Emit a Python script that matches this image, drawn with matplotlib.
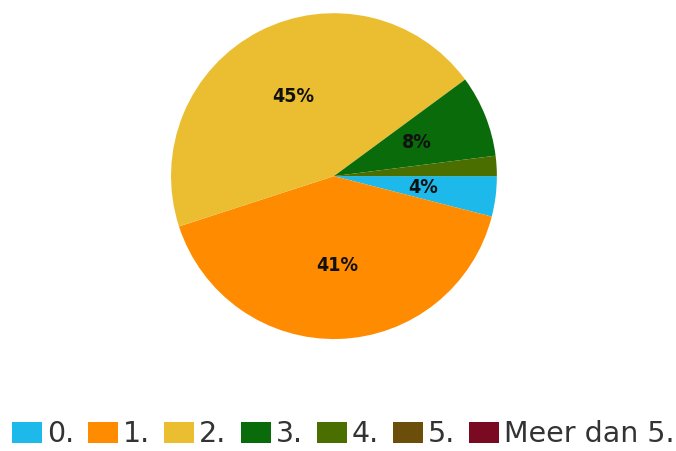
import matplotlib
matplotlib.use("Agg")
import matplotlib.pyplot as plt
from matplotlib.patches import Patch

categories = ["0.", "1.", "2.", "3.", "4.", "5.", "Meer dan 5."]
values = [4.0, 41.0, 44.9, 8.1, 2.0, 0.0, 0.0]
colors = ["#1CB9EA", "#FF8C00", "#EBBE32", "#0A6B0A", "#4B6E00", "#6B4E0A", "#7A0A22"]

fig = plt.figure(figsize=(6.76, 4.51), dpi=100)
ax = fig.add_axes([0.253, 0.248, 0.482, 0.723])

def fmt(p):
    return f"{p:.0f}%" if p >= 3 else ""

wedges, texts, autotexts = ax.pie(
    values, colors=colors, startangle=0, counterclock=False,
    autopct=fmt, pctdistance=0.55,
    textprops=dict(fontsize=14, fontweight="bold", family="DejaVu Sans",
                   fontstretch="condensed", color="#111111"),
    wedgeprops=dict(linewidth=0),
)
ax.set_xlim(-1, 1)
ax.set_ylim(-1, 1)
ax.set_aspect("equal")

handles = [Patch(facecolor=c, edgecolor="none") for c in colors]
leg = fig.legend(handles, categories, loc="center", bbox_to_anchor=(0.508, 0.037),
                 ncol=7, frameon=False, handlelength=1.05, handleheight=0.78,
                 handletextpad=0.17, columnspacing=0.5, borderpad=0, borderaxespad=0,
                 prop=dict(family="DejaVu Sans", size=20.5))
for t in leg.get_texts():
    t.set_color("#333333")

fig.savefig("out.png", dpi=100)
